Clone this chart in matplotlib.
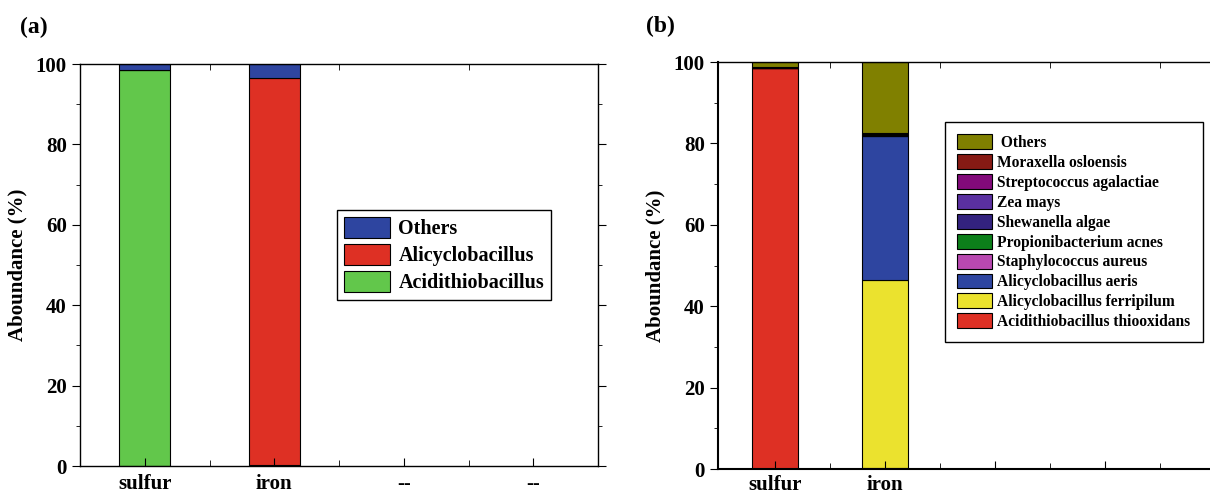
import matplotlib
matplotlib.use("Agg")
import matplotlib.pyplot as plt
from matplotlib.patches import Patch
from matplotlib.ticker import MultipleLocator, FixedLocator

plt.rcParams['font.family'] = ['Liberation Serif', 'DejaVu Serif']
plt.rcParams['font.weight'] = 'bold'

# ---- Panel (a) data ----
cats_a = ["sulfur", "iron", "--", "--"]
genus_names = ["Acidithiobacillus", "Alicyclobacillus", "Others"]
acidithio_a = [98.5, 0.3, 0, 0]
alicyclo_a = [0.1, 96.2, 0, 0]
others_a = [1.4, 3.5, 0, 0]
colors_a = ["#62C74B", "#DE3024", "#2E45A0"]

# ---- Panel (b) data ----
cats_b = ["sulfur", "iron", "", ""]
species_names = ["Acidithiobacillus thiooxidans", "Alicyclobacillus ferripilum",
                 "Alicyclobacillus aeris", "Staphylococcus aureus",
                 "Propionibacterium acnes", "Shewanella algae", "Zea mays",
                 "Streptococcus agalactiae", "Moraxella osloensis", "Others"]
thiooxidans_b = [98.5, 0.3, 0, 0]
ferripilum_b = [0.0, 46.1, 0, 0]
aeris_b = [0.0, 35.4, 0, 0]
staph_b = [0.02, 0.1, 0, 0]
propion_b = [0.02, 0.1, 0, 0]
shewan_b = [0.02, 0.1, 0, 0]
zea_b = [0.02, 0.1, 0, 0]
strep_b = [0.02, 0.1, 0, 0]
morax_b = [0.1, 0.2, 0, 0]
others_b = [1.3, 17.5, 0, 0]
colors_b = ["#DE3024", "#EBE22E", "#2E45A0", "#B848B0", "#0C7F1A",
            "#33227E", "#5A30A0", "#820A7A", "#861A14", "#808000"]


def stacked(ax, series, colors, width):
    n = len(series[0])
    bottom = [0.0] * n
    for vals, col in zip(series, colors):
        idx = [i for i in range(n) if vals[i] > 0]
        ax.bar(idx, [vals[i] for i in idx], width=width,
               bottom=[bottom[i] for i in idx], color=col,
               edgecolor='black', linewidth=0.8)
        bottom = [b + v for b, v in zip(bottom, vals)]


fig = plt.figure(figsize=(12.10, 4.94), dpi=100)

# ---------- Panel (a) ----------
axa = fig.add_axes([80/1210, 1-466/494, (598-80)/1210, (466-64)/494])
xa = list(range(len(cats_a)))
stacked(axa, [acidithio_a, alicyclo_a, others_a], colors_a, 0.39)
axa.set_xlim(-0.5, 3.5)
axa.set_ylim(0, 100)
axa.set_xticks(xa)
axa.set_xticklabels(cats_a, fontsize=15, fontweight='bold')
axa.xaxis.set_minor_locator(FixedLocator([0.5, 1.5, 2.5]))
axa.yaxis.set_major_locator(MultipleLocator(20))
axa.yaxis.set_minor_locator(MultipleLocator(10))
axa.tick_params(axis='x', which='major', direction='in', length=6, top=False, pad=6)
axa.tick_params(axis='x', which='minor', direction='in', length=4, top=True)
axa.tick_params(axis='y', which='major', direction='out', length=6, labelsize=15, right=True)
axa.tick_params(axis='y', which='minor', direction='out', length=3, right=True)
for lab in axa.get_yticklabels():
    lab.set_fontweight('bold')
axa.set_ylabel("Aboundance (%)", fontsize=15, fontweight='bold', labelpad=6)
for s in axa.spines.values():
    s.set_linewidth(1.0)
handles_a = [Patch(facecolor=c, edgecolor='black', linewidth=0.8) for c in colors_a][::-1]
labels_a = genus_names[::-1]
fig.legend(handles_a, labels_a, loc='upper left', bbox_to_anchor=(337/1210, 1-210/494),
           prop={'family': 'Liberation Serif', 'weight': 'bold', 'size': 14.5},
           frameon=True, fancybox=False, edgecolor='black', framealpha=1,
           handlelength=2.3, handleheight=1.25, labelspacing=0.22, handletextpad=0.4,
           borderpad=0.35, borderaxespad=0)
fig.text(20/1210, 1-27/494, "(a)", fontsize=17, fontweight='bold', va='center', ha='left')

# ---------- Panel (b) ----------
axb = fig.add_axes([718/1210, 1-469/494, (1210-718)/1210, (469-62)/494])
xb = list(range(len(cats_b)))
stacked(axb, [thiooxidans_b, ferripilum_b, aeris_b, staph_b, propion_b, shewan_b,
              zea_b, strep_b, morax_b, others_b], colors_b, 0.41)
axb.set_xlim(-0.518, 3.955)
axb.set_ylim(0, 100)
axb.set_xticks(xb)
axb.set_xticklabels(cats_b, fontsize=15, fontweight='bold')
axb.xaxis.set_minor_locator(FixedLocator([0.5, 1.5, 2.5, 3.5]))
axb.yaxis.set_major_locator(MultipleLocator(20))
axb.yaxis.set_minor_locator(MultipleLocator(10))
axb.tick_params(axis='x', which='major', direction='in', length=6, top=False, pad=4)
axb.tick_params(axis='x', which='minor', direction='in', length=4, top=True)
axb.tick_params(axis='y', which='major', direction='out', length=6, labelsize=15)
axb.tick_params(axis='y', which='minor', direction='out', length=3)
for lab in axb.get_yticklabels():
    lab.set_fontweight('bold')
axb.set_ylabel("Aboundance (%)", fontsize=15, fontweight='bold', labelpad=6)
axb.spines['right'].set_visible(False)
axb.spines['left'].set_linewidth(1.5)
axb.spines['bottom'].set_linewidth(1.5)
axb.spines['top'].set_linewidth(1.0)
handles_b = [Patch(facecolor=c, edgecolor='black', linewidth=0.8) for c in colors_b][::-1]
labels_b = [(" " + n if n == "Others" else n) for n in species_names][::-1]
fig.legend(handles_b, labels_b, loc='upper left', bbox_to_anchor=(945/1210, 1-122/494),
           prop={'family': 'Liberation Serif', 'weight': 'bold', 'size': 11.2},
           frameon=True, fancybox=False, edgecolor='black', framealpha=1,
           handlelength=2.2, handleheight=1.1, labelspacing=0.2, handletextpad=0.35,
           borderpad=0.8, borderaxespad=0)
fig.text(646/1210, 1-26/494, "(b)", fontsize=17, fontweight='bold', va='center', ha='left')

fig.savefig("out.png", dpi=100)
